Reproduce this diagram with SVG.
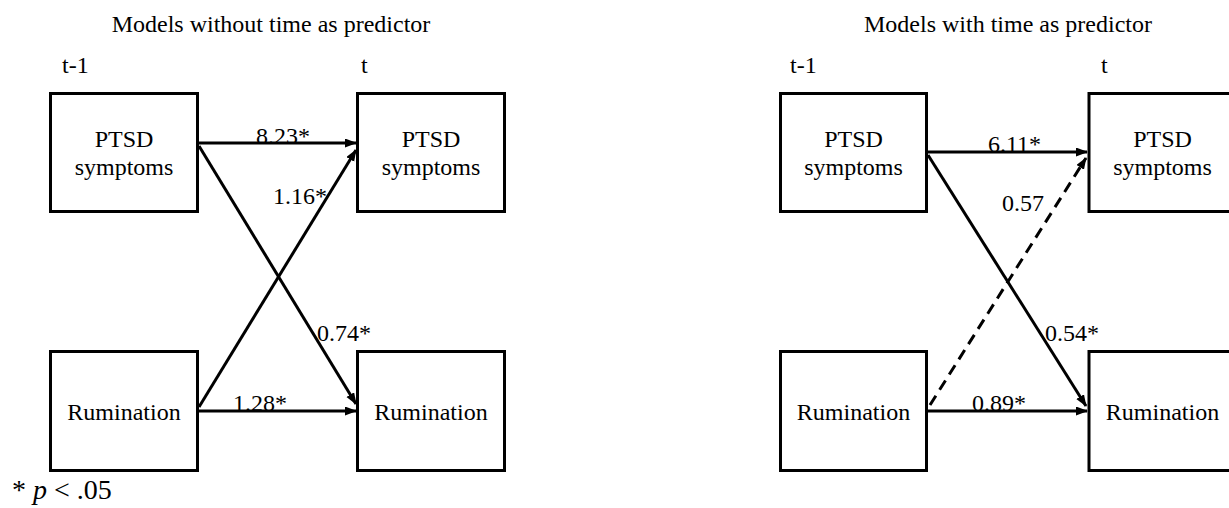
<svg xmlns="http://www.w3.org/2000/svg" width="1229" height="508" viewBox="0 0 1229 508">
<style>
text{font-family:"Liberation Serif","Times New Roman",serif;font-size:24px;fill:#000}
.c{text-anchor:middle}
.box{fill:#fff;stroke:#000;stroke-width:3}
.ln{stroke:#000;stroke-width:3;fill:none}
.dash{stroke-dasharray:11 7}
</style>
<defs>
<marker id="ah" markerUnits="userSpaceOnUse" markerWidth="12" markerHeight="10" refX="11" refY="4.5" orient="auto">
<path d="M0,0 L12,4.5 L0,9 z" fill="#000"/>
</marker>
</defs>
<text class="c" x="271" y="32">Models without time as predictor</text>
<text class="c" x="1008" y="32">Models with time as predictor</text>
<text x="62" y="73">t-1</text>
<text x="361" y="73">t</text>
<text x="790" y="73">t-1</text>
<text x="1101" y="73">t</text>
<g id="L-ptsd-t1"><rect class="box" x="50.5" y="93.5" width="147" height="118"/><text class="c" x="124" y="147">PTSD</text><text class="c" x="124" y="175">symptoms</text></g>
<g id="L-ptsd-t"><rect class="box" x="357.5" y="93.5" width="147" height="118"/><text class="c" x="431" y="147">PTSD</text><text class="c" x="431" y="175">symptoms</text></g>
<g id="L-rum-t1"><rect class="box" x="50.5" y="351.5" width="147" height="119"/><text class="c" x="124" y="420">Rumination</text></g>
<g id="L-rum-t"><rect class="box" x="357.5" y="351.5" width="147" height="119"/><text class="c" x="431" y="420">Rumination</text></g>
<g id="R-ptsd-t1"><rect class="box" x="780.5" y="93.5" width="146" height="118"/><text class="c" x="853.5" y="147">PTSD</text><text class="c" x="853.5" y="175">symptoms</text></g>
<g id="R-ptsd-t"><rect class="box" x="1089" y="93.5" width="147" height="118"/><text class="c" x="1162.5" y="147">PTSD</text><text class="c" x="1162.5" y="175">symptoms</text></g>
<g id="R-rum-t1"><rect class="box" x="780.5" y="351.5" width="146" height="119"/><text class="c" x="853.5" y="420">Rumination</text></g>
<g id="R-rum-t"><rect class="box" x="1089" y="351.5" width="147" height="119"/><text class="c" x="1162.5" y="420">Rumination</text></g>
<g id="connectors">
<line class="ln" x1="199" y1="143" x2="356" y2="143" marker-end="url(#ah)"/>
<line class="ln" x1="199" y1="146" x2="356" y2="404" marker-end="url(#ah)"/>
<line class="ln" x1="199" y1="407" x2="356" y2="150" marker-end="url(#ah)"/>
<line class="ln" x1="199" y1="411" x2="356" y2="411" marker-end="url(#ah)"/>
<line class="ln" x1="928" y1="152" x2="1087" y2="152" marker-end="url(#ah)"/>
<line class="ln" x1="928" y1="155" x2="1086" y2="406" marker-end="url(#ah)"/>
<line class="ln dash" x1="930" y1="405" x2="1086" y2="158" marker-end="url(#ah)"/>
<line class="ln" x1="928" y1="411" x2="1087" y2="411" marker-end="url(#ah)"/>
</g>
<g id="labels">
<text x="256" y="144">8.23*</text>
<text x="273" y="204">1.16*</text>
<text x="317" y="341">0.74*</text>
<text x="233" y="411">1.28*</text>
<text x="988" y="152">6.11*</text>
<text x="1002" y="211">0.57</text>
<text x="1045" y="341">0.54*</text>
<text x="972" y="411">0.89*</text>
</g>
<text x="12" y="499" style="font-size:28px">* <tspan font-style="italic">p</tspan> &lt; .05</text>
</svg>
